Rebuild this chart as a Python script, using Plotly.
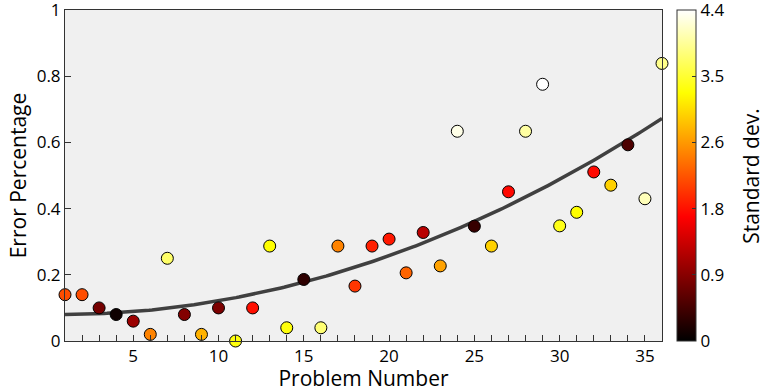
import numpy as np
import plotly.graph_objects as go

problem = list(range(1, 37))
error_pct = [0.14, 0.14, 0.10, 0.08, 0.06, 0.02, 0.25, 0.08, 0.02, 0.10,
             0.00, 0.10, 0.287, 0.04, 0.186, 0.04, 0.287, 0.166, 0.287, 0.308,
             0.206, 0.328, 0.227, 0.634, 0.347, 0.287, 0.451, 0.634, 0.776, 0.348,
             0.389, 0.511, 0.471, 0.593, 0.430, 0.839]
std_dev = [2.15, 2.15, 0.75, 0.1, 1.0, 2.5, 3.75, 0.85, 2.8, 0.8,
           3.35, 1.75, 3.3, 3.35, 0.3, 3.8, 2.5, 2.0, 1.85, 1.8,
           2.3, 1.2, 2.7, 4.3, 0.35, 3.0, 1.7, 4.0, 4.4, 3.4,
           3.3, 1.7, 3.0, 0.5, 4.1, 3.9]
cbar_tickvals = [0, 0.88, 1.76, 2.64, 3.52, 4.4]
cbar_ticktext = ["0", "0.9", "1.8", "2.6", "3.5", "4.4"]

hot = [[0.0, "rgb(0,0,0)"], [0.375, "rgb(255,0,0)"], [0.75, "rgb(255,255,0)"], [1.0, "rgb(255,255,255)"]]

coef = np.polyfit(problem, error_pct, 2)
xf = np.linspace(1, 36, 200)
yf = np.polyval(coef, xf)

FONT = "Open Sans"
TICK = 17
TITLE = 21
fig = go.Figure()
fig.add_trace(go.Scatter(x=xf, y=yf, mode="lines", line=dict(color="#404040", width=3.5),
                         showlegend=False, hoverinfo="skip"))
fig.add_trace(go.Scatter(
    x=problem, y=error_pct, mode="markers", cliponaxis=False, showlegend=False,
    marker=dict(size=12, color=std_dev, colorscale=hot, cmin=0, cmax=4.4,
                line=dict(color="black", width=1),
                colorbar=dict(x=1.025, xanchor="left", y=0.5, yanchor="middle", len=1.0,
                              lenmode="fraction", thickness=19, ypad=0, xpad=0,
                              outlinewidth=1, outlinecolor="#333",
                              tickvals=cbar_tickvals, ticktext=cbar_ticktext, ticks="inside",
                              ticklen=4, tickcolor="#333", ticklabeloverflow="allow",
                              tickfont=dict(family=FONT, size=TICK, color="black")))
))

fig.add_annotation(text="Standard dev.", xref="paper", yref="paper", x=1.148, y=0.5,
                   xanchor="center", yanchor="middle", textangle=-90, showarrow=False,
                   font=dict(family=FONT, size=TITLE, color="black"))

fig.update_layout(
    width=765, height=392,
    margin=dict(l=65, r=103, t=10, b=51, autoexpand=False),
    paper_bgcolor="white", plot_bgcolor="#f0f0f0",
    font=dict(family=FONT, color="black"),
)
fig.update_xaxes(range=[1, 36], tickvals=[5, 10, 15, 20, 25, 30, 35], ticks="inside", ticklen=6,
                 tickcolor="#333", showline=True, linecolor="#333", linewidth=1, mirror=True,
                 showgrid=False, zeroline=False, ticklabeloverflow="allow",
                 minor=dict(dtick=1, tick0=1, ticks="inside", ticklen=6, tickcolor="#333", showgrid=False),
                 tickfont=dict(family=FONT, size=TICK),
                 title=dict(text="Problem Number", font=dict(family=FONT, size=TITLE), standoff=2))
fig.update_yaxes(range=[0, 1.0005], tickvals=[0, 0.2, 0.4, 0.6, 0.8, 1], ticktext=["0", "0.2", "0.4", "0.6", "0.8", "1"],
                 ticks="inside", ticklen=6, tickcolor="#333", ticklabeloverflow="allow",
                 showline=True, linecolor="#333", linewidth=1, mirror=True,
                 showgrid=False, zeroline=False,
                 tickfont=dict(family=FONT, size=TICK),
                 title=dict(text="Error Percentage", font=dict(family=FONT, size=TITLE), standoff=4))

fig.write_html("out.html", config={"displayModeBar": False},
               post_script="document.body.style.margin='0';")
